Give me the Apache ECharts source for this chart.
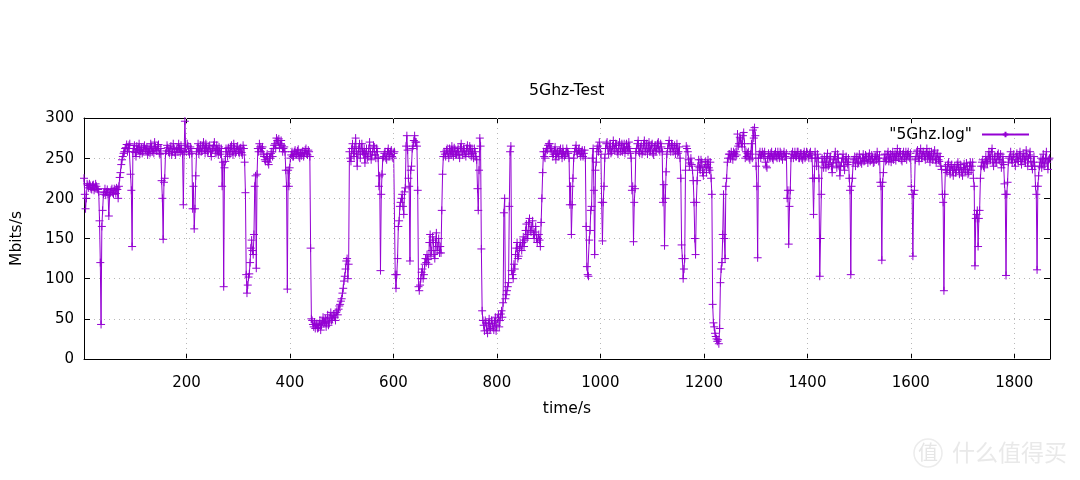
<!DOCTYPE html>
<html>
<head>
<meta charset="utf-8">
<title>5Ghz-Test</title>
<script src="https://cdn.jsdelivr.net/npm/echarts@6/dist/echarts.min.js"></script>
<style>
  html, body { margin: 0; padding: 0; background: #fff; }
  #main { width: 1080px; height: 480px; }
</style>
</head>
<body>
<div id="main"></div>
<script>
// readings: block* at every 3 s, gap* halfway between them
const startSecond = 2;
const stepSeconds = 3;
const block1 = [
  225,187,218,213,216,211,217,213,215,211,
  172,43,185,207,204,211,178,207,212,205,
  210,213,200,226,242,252,258,263,258,266,
  230,140,262,257,265,260,255,263,258,266,
  259,254,262,268,258,256,264,260,267,255,
  222,149,225,259,263,256,265,258,262,254,
  263,268,257,260,192,296,258,265,255,262,
  187,162,228,262,255,266,259,270,256,263,
  258,266,252,262,270,256,260,264,255,215,
  90,246,258,263,255,266,254,262,258,265
];
const gap1 = [
  205,200,216,218,212,216,210,218,212,208,
  120,165,205,212,208,205,204,210,207,212,
  206,211,215,232,248,256,262,267,262,268,
  210,258,266,252,261,268,259,256,264,261,
  264,258,256,264,262,270,259,265,256,262,
  200,220,256,266,258,262,254,268,257,261,
  258,262,266,255,258,262,268,258,264,256,
  215,187,258,268,260,258,265,262,268,258,
  265,258,260,266,260,266,254,258,262,245,
  238,262,252,258,264,258,268,256,264,258
];
const block2 = [
  256,263,254,262,207,82,102,120,148,130,
  215,113,262,268,258,264,252,246,255,242,
  250,258,262,268,275,270,263,272,258,264,
  235,87,215,250,258,252,260,255,261,250,
  253,259,256,262,254,258,138,48,40,38,
  44,39,48,42,52,46,40,55,45,58,
  50,56,48,60,62,68,75,88,103,122,
  100,258,246,268,252,275,240,262,250,268,
  255,244,262,252,270,248,258,264,250,258,
  215,110,230,252,258,248,262,255,260,250
];
const gap2 = [
  262,257,266,245,105,92,106,138,135,155,
  228,230,258,264,262,255,248,252,245,250,
  256,252,266,262,272,274,268,266,262,258,
  215,235,238,254,252,258,254,259,252,256,
  257,252,260,255,260,252,50,43,46,42,
  38,43,36,46,44,50,47,42,52,48,
  54,52,58,55,66,72,82,97,112,125,
  118,250,262,256,264,258,255,268,262,258,
  262,256,250,262,258,254,266,254,262,250,
  228,205,250,256,250,258,252,258,252,256
];
const block3 = [
  258,88,125,172,195,205,180,213,278,225,
  122,240,265,278,270,210,85,100,112,105,
  125,130,118,155,135,148,125,157,140,132,
  132,230,258,252,262,250,258,265,252,260,
  255,262,250,268,254,260,252,266,255,262,
  262,250,258,248,185,275,137,48,35,45,
  32,50,38,44,36,52,42,55,48,60,
  70,200,80,90,190,265,105,118,130,145,
  128,145,135,152,148,168,155,175,158,172,
  150,165,145,155,140,200,258,250,262,266,268
];
const gap3 = [
  105,105,165,190,200,190,208,265,260,215,
  235,262,272,270,265,90,92,108,100,118,
  120,124,145,128,152,130,145,135,150,140,
  185,252,255,260,256,262,254,258,263,254,
  258,254,264,258,262,255,262,258,265,252,
  256,262,252,212,235,265,60,42,48,36,
  44,36,48,40,46,35,50,40,56,52,
  182,75,85,95,258,110,100,112,138,125,
  138,140,145,140,160,150,170,160,165,155,
  158,150,150,148,170,232,252,258,260,268,262
];
const block4 = [
  262,252,260,248,258,255,262,250,258,254,
  262,256,192,155,225,258,266,255,262,252,
  260,256,250,115,103,160,190,262,130,245,
  265,270,255,147,215,262,270,255,268,258,
  272,260,266,255,270,262,258,268,260,264,
  270,256,210,146,212,262,272,256,266,258,
  272,262,255,270,260,268,254,266,262,270,
  258,264,195,141,233,262,272,258,266,262,
  255,268,258,250,142,100,125,265,258,240,
  250,235,195,130,222,248,235,245,228,240
];
const gap4 = [
  258,255,264,255,252,260,256,262,252,258,
  258,250,215,192,250,262,258,260,256,258,
  252,260,165,105,148,185,250,210,235,262,
  258,262,195,195,250,268,262,264,256,265,
  262,268,258,266,258,268,262,256,268,258,
  262,250,215,195,258,268,258,264,255,268,
  258,268,262,258,266,256,264,258,268,260,
  268,258,217,200,255,268,262,268,258,266,
  262,256,264,225,125,112,235,262,248,244,
  242,222,150,195,240,238,248,232,238,246
];
const block5 = [
  232,248,235,225,68,40,28,22,19,95,
  120,205,125,225,250,255,258,248,256,258,
  280,268,274,264,282,250,252,258,248,268,
  285,288,240,126,255,250,258,252,245,238,
  256,250,258,248,255,252,258,250,256,248,
  258,252,200,143,210,255,250,258,252,258,
  250,256,248,258,252,256,250,258,254,180,
  258,240,250,103,205,245,252,238,256,242,
  252,232,248,258,238,250,228,245,255,235,
  252,242,225,105,225,248,240,252,245,250
];
const gap5 = [
  242,238,245,205,45,32,25,24,38,112,
  155,150,215,245,255,250,254,258,252,254,
  265,276,268,278,268,258,256,250,255,250,
  275,278,215,250,258,254,255,258,240,250,
  252,256,250,254,258,250,254,258,252,255,
  252,256,210,190,250,258,254,252,258,250,
  256,250,255,250,258,252,256,250,225,225,
  250,255,225,150,250,238,245,250,240,250,
  240,244,252,245,255,240,240,250,240,248,
  245,250,210,215,245,252,250,243,255,245
];
const block6 = [
  243,255,247,252,244,256,248,250,245,252,
  258,246,220,123,232,255,248,258,250,245,
  258,252,247,262,250,256,246,258,252,248,
  258,250,215,128,210,252,260,246,262,252,
  258,248,262,254,245,258,250,260,244,256,
  246,240,205,85,240,232,245,230,242,228,
  240,235,245,230,238,228,243,234,240,232,
  245,240,225,116,180,140,185,240,248,238,
  252,243,258,248,262,240,252,245,256,248,
  238,252,218,104,220,250,258,244,255,240,
  256,246,258,242,252,248,260,240,254,246,
  236,252,215,111,228,245,238,255,243,258,
  236,250
];
const gap6 = [
  250,246,254,248,252,246,254,244,252,248,
  250,254,215,220,250,246,255,246,255,252,
  248,256,254,252,258,248,255,250,258,255,
  252,256,205,205,248,258,250,256,250,258,
  252,256,250,258,252,248,256,248,254,248,
  252,236,195,205,235,242,235,240,235,238,
  232,242,236,242,232,238,236,244,230,240,
  235,245,215,175,185,175,225,245,240,245,
  246,252,250,258,245,252,244,254,248,255,
  245,242,205,205,245,252,248,252,245,250,
  248,254,246,250,256,244,252,250,258,240,
  245,240,205,215,240,250,248,240,250,245,
  248
];
const onStep = [...block1, ...block2, ...block3, ...block4, ...block5, ...block6];
const between = [...gap1, ...gap2, ...gap3, ...gap4, ...gap5, ...gap6];
const xTicks = [200, 400, 600, 800, 1000, 1200, 1400, 1600, 1800];
const xMin = 2;
const xMax = 1869;

const purple = '#9400d3';
const fontName = 'DejaVu Sans';

let points = [];
onStep.forEach(function (v, i) {
  let t = startSecond + i * stepSeconds;
  points.push([t, v]);
  if (i < between.length) {
    points.push([t + stepSeconds / 2, between[i]]);
  }
});

let myChart = echarts.init(document.getElementById('main'), null, { renderer: 'canvas' });

// gnuplot draws the frame with inward ticks on all four sides
function xAxisOf(position, showLabel) {
  return {
    type: 'value', position: position, min: xMin, max: xMax, z: 3,
    axisLine: { show: true, onZero: false, lineStyle: { color: '#000', width: 1 } },
    axisTick: { show: true, inside: true, length: 6, customValues: xTicks, lineStyle: { color: '#000' } },
    axisLabel: {
      show: showLabel, customValues: xTicks, color: '#000', fontFamily: fontName, fontSize: 15, margin: 17,
      formatter: function (v) { return String(v); }
    },
    splitLine: { show: false },
    name: showLabel ? 'time/s' : '',
    nameLocation: 'middle', nameGap: 42,
    nameTextStyle: { color: '#000', fontFamily: fontName, fontSize: 15.5 }
  };
}
function yAxisOf(position, showLabel) {
  return {
    type: 'value', position: position, min: 0, max: 300, interval: 50, z: 3,
    axisLine: { show: true, onZero: false, lineStyle: { color: '#000', width: 1 } },
    axisTick: { show: true, inside: true, length: 6, lineStyle: { color: '#000' } },
    axisLabel: {
      show: showLabel, color: '#000', fontFamily: fontName, fontSize: 15, margin: 10,
      verticalAlign: 'top', padding: [-7, 0, 0, 0]
    },
    splitLine: { show: showLabel, lineStyle: { color: '#b8b8b8', type: [1, 4], width: 1 } },
    name: showLabel ? 'Mbits/s' : '',
    nameLocation: 'middle', nameGap: 59,
    nameTextStyle: { color: '#000', fontFamily: fontName, fontSize: 15.5 }
  };
}

myChart.setOption({
  animation: false,
  backgroundColor: '#fff',
  title: {
    text: '5Ghz-Test', left: 524, top: 78,
    textStyle: { color: '#000', fontFamily: fontName, fontSize: 15.7, fontWeight: 'normal' }
  },
  grid: { left: 84, right: 30, top: 118, bottom: 121 },
  legend: {
    right: 45, top: 121.5, orient: 'horizontal', align: 'right',
    itemWidth: 47, itemHeight: 7, itemGap: 0,
    textStyle: { color: '#000', fontFamily: fontName, fontSize: 15.5, padding: [0, 5, 0, 0] }
  },
  xAxis: [xAxisOf('bottom', true), xAxisOf('top', false)],
  yAxis: [yAxisOf('left', true), yAxisOf('right', false)],
  series: [
    {
      // vertical grid lines only, dotted like the horizontal ones
      type: 'line', silent: true, data: [], legendHoverLink: false,
      markLine: {
        silent: true, symbol: 'none', label: { show: false },
        lineStyle: { color: '#b8b8b8', type: [1, 4], width: 1 },
        data: xTicks.map(function (v) { return { xAxis: v }; })
      }
    },
    {
      name: '"5Ghz.log"',
      type: 'line',
      data: points,
      showSymbol: true,
      showAllSymbol: true,
      symbol: 'path://M0 5H10M5 0V10',
      symbolSize: 8,
      sampling: false,
      lineStyle: { color: purple, width: 1 },
      itemStyle: { color: 'none', borderColor: purple, borderWidth: 1 }
    }
  ],
  graphic: [
    {
      type: 'circle', silent: true,
      shape: { cx: 928, cy: 453, r: 14 },
      style: { fill: 'none', stroke: '#ececec', lineWidth: 1.5 }
    },
    {
      type: 'text', left: 918, top: 442, silent: true,
      style: { text: '值', fontFamily: 'Noto Sans CJK SC', fontSize: 20, fill: '#e6e6e6' }
    },
    {
      type: 'text', left: 952, top: 441, silent: true,
      style: {
        text: '什么值得买', fontFamily: 'Noto Sans CJK SC', fontSize: 23, fill: '#e9e9e9',
        shadowColor: 'rgba(0,0,0,0.18)', shadowBlur: 2
      }
    }
  ]
});
</script>
</body>
</html>
